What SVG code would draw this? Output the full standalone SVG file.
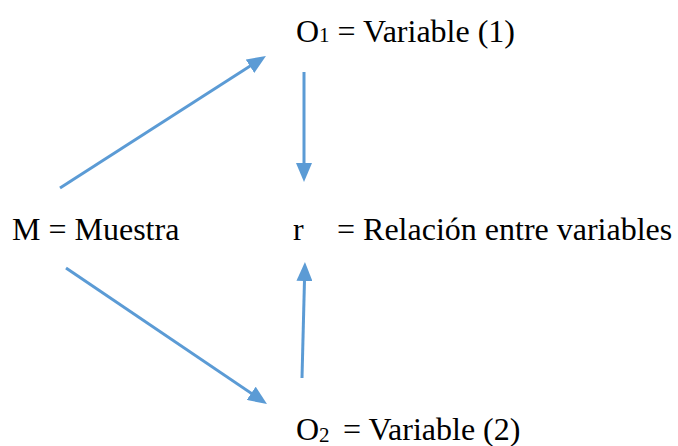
<svg xmlns="http://www.w3.org/2000/svg" width="678" height="446" viewBox="0 0 678 446">
<style>
.t{font-family:"Liberation Serif","Times New Roman",serif;font-size:32px;fill:#000}
.s{font-size:21px}
.c line{stroke:#5B9BD5;stroke-width:3;fill:none}
</style>
<defs>
<marker id="ah" markerUnits="userSpaceOnUse" markerWidth="19" markerHeight="16" refX="13" refY="8" orient="auto">
<path d="M0,0 L19,8 L0,16 z" fill="#5B9BD5"/>
</marker>
</defs>
<rect width="678" height="446" fill="#fff"/>
<g id="O1"><text class="t" x="296" y="42">O<tspan class="s">1</tspan><tspan> = Variable (1)</tspan></text></g>
<g id="M"><text class="t" x="12" y="240">M = Muestra</text></g>
<g id="r"><text class="t" x="293" y="240">r</text><text class="t" x="337" y="240">= Relación entre variables</text></g>
<g id="O2"><text class="t" x="296" y="440">O<tspan class="s" font-size="22" dy="2">2</tspan><tspan dy="-2" x="343">= Variable (2)</tspan></text></g>
<g class="c" id="connectors">
<line x1="60" y1="188" x2="260.9" y2="59.2" marker-end="url(#ah)"/>
<line x1="304" y1="72" x2="304" y2="176" marker-end="url(#ah)"/>
<line x1="66" y1="268" x2="262" y2="400.6" marker-end="url(#ah)"/>
<line x1="302" y1="378" x2="304.8" y2="268" marker-end="url(#ah)"/>
</g>
</svg>
